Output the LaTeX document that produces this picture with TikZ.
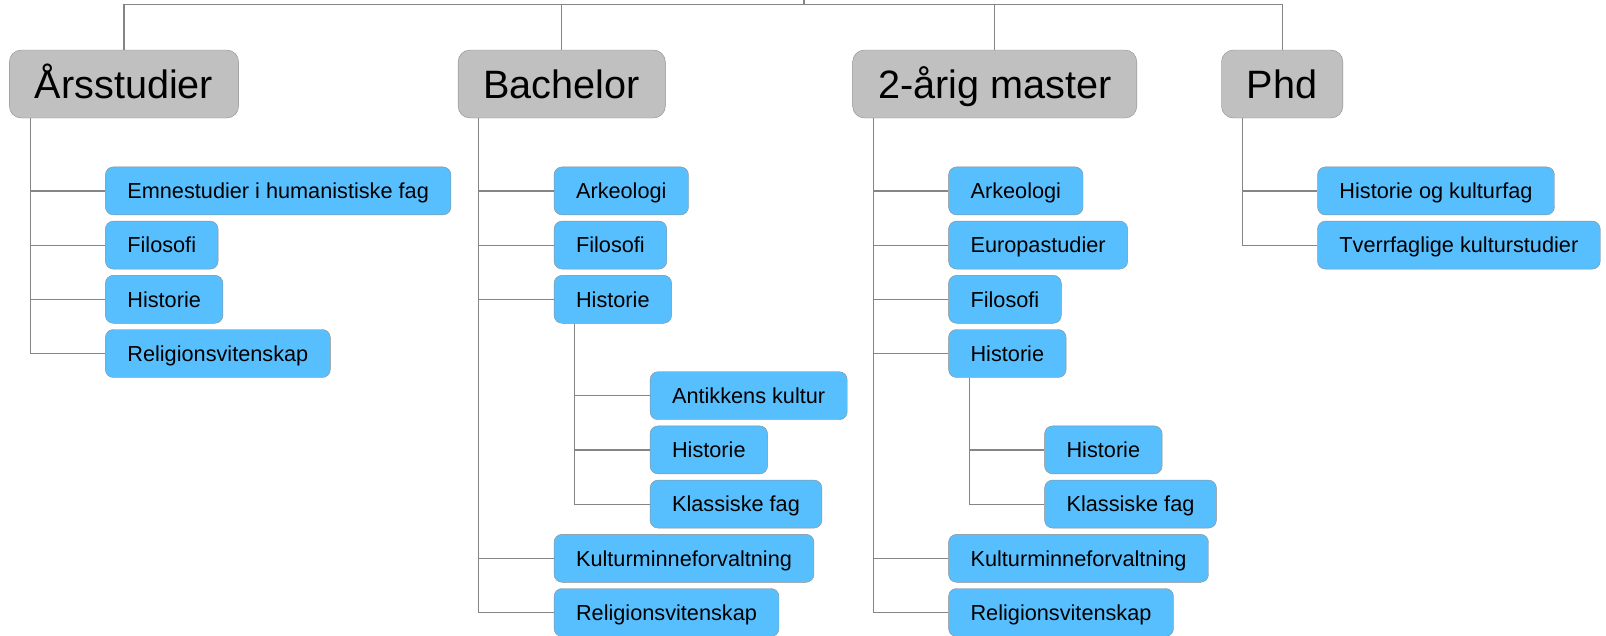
\documentclass[tikz,border=0pt]{standalone}
\usepackage{fontspec}
\setmainfont{Liberation Sans}
\usetikzlibrary{positioning}
\definecolor{fagblue}{HTML}{58BFFF}
\definecolor{toplevel}{HTML}{C0C0C0}

\begin{document}
\begin{tikzpicture}[x=1pt,y=-1pt,
topbox/.style={draw=black!45,fill=toplevel,rounded corners=12pt,minimum height=68pt,inner xsep=25.5pt,inner ysep=0pt,text height=28.4pt,text depth=0pt,font=\fontsize{39.6}{44}\selectfont},
subbox/.style={draw=black!45,fill=fagblue,rounded corners=8pt,minimum height=48pt,inner xsep=22pt,inner ysep=0pt,text height=15.5pt,text depth=0pt,anchor=north west,font=\fontsize{21.7}{26}\selectfont},
link/.style={draw=black!48,line width=1.2pt}]
\useasboundingbox (0,0) rectangle (1606,635);

% top level
\node (ars) [topbox] at (124,84) {Årsstudier};
\node (bach) [topbox] at (561.7,84) {Bachelor};
\node (mast) [topbox] at (994.7,84) {2-årig master};
\node (phd) [topbox] at (1282.2,84) {Phd};

% Årsstudier
\node (arsemne) [subbox] at ([xshift=96pt,yshift=-48.5pt]ars.south west) {Emnestudier i humanistiske fag};
\node (arsfilo) [subbox,below=5.8pt of arsemne.south west,anchor=north west] {Filosofi};
\node (arshist) [subbox,below=5.8pt of arsfilo.south west,anchor=north west] {Historie};
\node (arsrel) [subbox,below=5.8pt of arshist.south west,anchor=north west] {Religionsvitenskap};

% Bachelor
\node (bark) [subbox] at ([xshift=96pt,yshift=-48.5pt]bach.south west) {Arkeologi};
\node (bfilo) [subbox,below=5.8pt of bark.south west,anchor=north west] {Filosofi};
\node (bhist) [subbox,below=5.8pt of bfilo.south west,anchor=north west] {Historie};
\node (bant) [subbox] at ([xshift=96pt,yshift=-48pt]bhist.south west) {Antikkens kultur};
\node (bhist2) [subbox,below=5.8pt of bant.south west,anchor=north west] {Historie};
\node (bklass) [subbox,below=5.8pt of bhist2.south west,anchor=north west] {Klassiske fag};
\node (bkult) [subbox] at ([yshift=-5.8pt]bhist.west |- bklass.south) {Kulturminneforvaltning};
\node (brel) [subbox,below=5.8pt of bkult.south west,anchor=north west] {Religionsvitenskap};

% 2-årig master
\node (mark) [subbox] at ([xshift=96pt,yshift=-48.5pt]mast.south west) {Arkeologi};
\node (meuro) [subbox,below=5.8pt of mark.south west,anchor=north west] {Europastudier};
\node (mfilo) [subbox,below=5.8pt of meuro.south west,anchor=north west] {Filosofi};
\node (mhist) [subbox,below=5.8pt of mfilo.south west,anchor=north west] {Historie};
\node (mhist2) [subbox] at ([xshift=96pt,yshift=-48pt]mhist.south west) {Historie};
\node (mklass) [subbox,below=5.8pt of mhist2.south west,anchor=north west] {Klassiske fag};
\node (mkult) [subbox] at ([yshift=-5.8pt]mhist.west |- mklass.south) {Kulturminneforvaltning};
\node (mrel) [subbox,below=5.8pt of mkult.south west,anchor=north west] {Religionsvitenskap};

% Phd
\node (phist) [subbox] at ([xshift=96pt,yshift=-48.5pt]phd.south west) {Historie og kulturfag};
\node (ptverr) [subbox,below=5.8pt of phist.south west,anchor=north west] {Tverrfaglige kulturstudier};

% connectors
\coordinate (crown) at (804,0);
\coordinate (bus) at (804,4.7);
\draw[link] (crown) -- (bus) (bus) -| (ars.north) (bus) -| (bach.north)
  (bus) -| (mast.north) (bus) -| (phd.north);

\coordinate (arsroot) at ([xshift=21pt]ars.south west);
\draw[link] (arsroot) |- (arsemne.west) (arsroot) |- (arsfilo.west)
  (arsroot) |- (arshist.west) (arsroot) |- (arsrel.west);

\coordinate (bachroot) at ([xshift=21pt]bach.south west);
\draw[link] (bachroot) |- (bark.west) (bachroot) |- (bfilo.west)
  (bachroot) |- (bhist.west) (bachroot) |- (bkult.west) (bachroot) |- (brel.west);
\coordinate (bhistroot) at ([xshift=21pt]bhist.south west);
\draw[link] (bhistroot) |- (bant.west) (bhistroot) |- (bhist2.west)
  (bhistroot) |- (bklass.west);

\coordinate (mastroot) at ([xshift=21pt]mast.south west);
\draw[link] (mastroot) |- (mark.west) (mastroot) |- (meuro.west)
  (mastroot) |- (mfilo.west) (mastroot) |- (mhist.west)
  (mastroot) |- (mkult.west) (mastroot) |- (mrel.west);
\coordinate (mhistroot) at ([xshift=21pt]mhist.south west);
\draw[link] (mhistroot) |- (mhist2.west) (mhistroot) |- (mklass.west);

\coordinate (phdroot) at ([xshift=21pt]phd.south west);
\draw[link] (phdroot) |- (phist.west) (phdroot) |- (ptverr.west);
\end{tikzpicture}
\end{document}
